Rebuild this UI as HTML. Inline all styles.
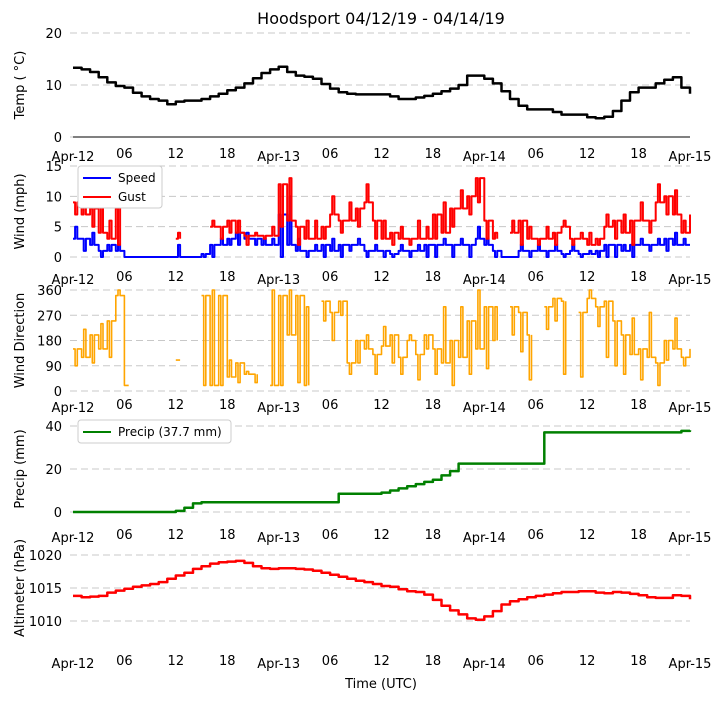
<!DOCTYPE html>
<html><head><meta charset="utf-8"><style>
body{margin:0;background:#fff;}
svg text{font-family:"DejaVu Sans","Liberation Sans",sans-serif;fill:#000;}
</style></head><body>
<svg id="c" width="721" height="700" xmlns="http://www.w3.org/2000/svg">
<text x="381" y="24" font-size="16" text-anchor="middle">Hoodsport 04/12/19 - 04/14/19</text>
<text x="381" y="688" font-size="13" text-anchor="middle">Time (UTC)</text>
</svg>
<script>
const hours=[];for(let i=0;i<=72;i++)hours.push(i);
const xTickHours=[0,6,12,18,24,30,36,42,48,54,60,66,72];
const xTickLabels=["Apr-12","06","12","18","Apr-13","06","12","18","Apr-14","06","12","18","Apr-15"];
const temp=[13.3,13,12.5,11.5,10.5,9.8,9.5,8.5,7.8,7.3,7,6.3,6.8,7,7,7.3,7.8,8.3,9,9.5,10.3,11.3,12.3,13,13.5,12.5,11.8,11.6,11.2,10.2,9.3,8.6,8.3,8.2,8.2,8.2,8.2,7.8,7.3,7.3,7.6,7.9,8.3,8.8,9.3,10,11.8,11.8,11.2,10.3,8.8,7.3,6,5.3,5.3,5.3,4.8,4.3,4.3,4.3,3.8,3.6,3.9,5,7,8.6,9.5,9.5,10.3,11,11.5,9.5,8.3];
const speed=[3,3,2,1,2,1,0,0,0,0,0,0,0,0,0,0.5,2,2,3,4,3,3,2,2,7,2,1,1,1,2,1,2,2,2,1,1,1,0.5,1,1,1,2,2,2,2,2,2,3,2,1,0,0,1,1,1,1,1,0.5,1,0.5,0.5,1,2,2,1,2,2,2,2,3,2,2,2];
const speedAlt=[5,1,4,0,1,2,0,0,0,0,0,0,2,0,0,0,0,3,2,2,4,2,3,3,0,10,3,0,2,0,3,0,1,3,0,2,0,0,2,0,2,0,0,3,0,3,0,5,3,0,0,0,2,0,2,0,2,0,2,0,1,0,0,0,2,0,3,1,3,1,4,3,1];
const gust=[9,7,8,4,3,8,null,null,null,null,null,null,3,null,null,null,5,5,6,4,3.5,3.5,3.5,3.5,12,6,5,3,3,5,7,6,6,8,9,6,3,4,3,3,3,3,7,4,8,8,10,13,6,3,null,4,6,3,3,3,4,5,3,3,2,3,5,6,4,6,6,6,9,10,7,4,7];
const gustAlt=[7,9,5,10,6,2,null,null,null,null,null,null,4,null,null,null,6,3,4,6,2,4,3,5,5,13,2,6,6,3,10,4,9,5,12,3,6,2,5,2,6,5,3,9,5,11,7,9,3,4,null,6,2,5,2,5,2,6,2,4,4,2,7,3,7,2,9,4,12,7,11,6,5];
const dir=[150,120,200,150,250,340,20,null,null,null,null,null,110,null,null,340,20,340,50,100,60,60,null,20,340,200,340,20,null,320,280,320,100,180,150,130,160,200,120,180,130,200,150,100,180,120,250,150,300,180,null,300,280,200,null,300,330,320,null,280,330,300,320,250,200,130,150,120,100,180,150,120,150];
const dirAlt=[90,220,100,240,120,360,20,null,null,null,null,null,110,null,null,20,360,20,110,30,70,30,null,360,20,360,30,300,null,250,180,270,60,100,200,60,230,100,60,200,40,150,60,300,20,300,60,360,80,300,null,200,140,40,null,220,250,60,null,50,360,230,120,90,60,260,40,280,20,110,260,90,180];
const precip=[0,0,0,0,0,0,0,0,0,0,0,0,0.5,2,4,4.5,4.5,4.5,4.5,4.5,4.5,4.5,4.5,4.5,4.5,4.5,4.5,4.5,4.5,4.5,4.5,8.5,8.5,8.5,8.5,8.5,9,10,11,12,13,14,15,17,19,22.5,22.5,22.5,22.5,22.5,22.5,22.5,22.5,22.5,22.5,37,37,37,37,37,37,37,37,37,37,37,37,37,37,37,37,37.7,38];
const altim=[1013.8,1013.6,1013.7,1013.8,1014.3,1014.6,1014.9,1015.2,1015.4,1015.6,1015.9,1016.4,1016.9,1017.3,1017.9,1018.3,1018.7,1018.9,1019.0,1019.1,1018.8,1018.3,1018.0,1017.9,1018.0,1018.0,1017.9,1017.8,1017.6,1017.3,1017.0,1016.7,1016.4,1016.1,1015.9,1015.6,1015.3,1015.2,1014.8,1014.5,1014.4,1014.0,1013.2,1012.3,1011.6,1011.0,1010.4,1010.2,1010.7,1011.5,1012.5,1013.0,1013.3,1013.6,1013.8,1014.0,1014.2,1014.4,1014.4,1014.5,1014.5,1014.3,1014.2,1014.4,1014.3,1014.1,1013.9,1013.6,1013.5,1013.5,1013.9,1013.8,1013.3];

const svg=document.getElementById('c');const NS="http://www.w3.org/2000/svg";
function mk(t,a,p){const e=document.createElementNS(NS,t);for(const k in a)e.setAttribute(k,a[k]);(p||svg).appendChild(e);return e;}
const X=h=>73+h*(617/72);
function panel(o){
  const Y=v=>o.y0+(v-o.v0)*(o.y1-o.y0)/(o.v1-o.v0);
  const g=mk('g',{});
  
  
  o.yt.forEach(v=>{
    const l=mk('line',{x1:70,x2:690,y1:Y(v),y2:Y(v),stroke:'#c8c8c8','stroke-dasharray':'7,4','stroke-width':1},g);
    
    
    const t=mk('text',{x:62,y:Y(v)+5,'font-size':13,'text-anchor':'end'},g);t.textContent=v;
    
    
  });
  if(o.spine){const s=mk('line',{x1:73,x2:690,y1:Y(o.v0),y2:Y(o.v0),stroke:'#000','stroke-width':1},g);}
  xTickHours.forEach((h,i)=>{
    const d=xTickLabels[i].startsWith('Apr');
    const t=mk('text',{x:X(h),y:o.ly+(d?3:0),'font-size':13,'text-anchor':'middle'},g);t.textContent=xTickLabels[i];
    
    
  });
  const yl=mk('text',{x:0,y:0,'font-size':13,'text-anchor':'middle',transform:`translate(24,${(o.y0+o.y1)/2}) rotate(-90)`},g);yl.textContent=o.label;
  
  
  o.series.forEach(s=>{
    let d='',pen=false;
    s.data.forEach((v,i)=>{
      if(v===null){pen=false;return;}
      const x=X(hours[i]),y=Y(v);
      if(s.step&&pen)d+='H'+x.toFixed(1)+'V'+y.toFixed(1);
      else d+=(pen?'L':'M')+x.toFixed(1)+','+y.toFixed(1);
      pen=true;
      if(s.alt&&s.alt[i]!=null&&i<s.data.length-1){
        const xa=X(hours[i]+0.25),xb=X(hours[i]+0.5);
        d+='H'+xa.toFixed(1)+'V'+Y(s.alt[i]).toFixed(1)+'H'+xb.toFixed(1)+'V'+y.toFixed(1);
      }
    });
    const p=mk('path',{d:d,fill:'none',stroke:s.color,'stroke-width':s.w||2.2,'stroke-linejoin':'round'},g);
    
    
  });
  return Y;
}
panel({name:'temp',v0:0,v1:20,y0:137,y1:33,yt:[0,10,20],ly:158,label:'Temp ( °C)',spine:true,series:[{name:'temp',data:temp,color:'#000',step:true,w:2.5}]});
panel({name:'wind',v0:0,v1:15,y0:257,y1:166,yt:[0,5,10,15],ly:281,label:'Wind (mph)',series:[{name:'speed',data:speed,alt:speedAlt,color:'#0000ff',step:true,w:2},{name:'gust',data:gust,alt:gustAlt,color:'#ff0000',step:true,w:2}]});
panel({name:'direction',v0:0,v1:360,y0:391,y1:290,yt:[0,90,180,270,360],ly:409,label:'Wind Direction',series:[{name:'direction',data:dir,alt:dirAlt,color:'#ffa500',w:1.6,step:true}]});
panel({name:'precip',v0:0,v1:40,y0:512,y1:426,yt:[0,20,40],ly:539,label:'Precip (mm)',series:[{name:'precip',data:precip,color:'#008000',w:2.5,step:true}]});
panel({name:'altimeter',v0:1010,v1:1020,y0:621,y1:555,yt:[1010,1015,1020],ly:665,label:'Altimeter (hPa)',series:[{name:'altimeter',data:altim,color:'#ff0000',w:2.5,step:true}]});
function legend(x,y,w,h,items,name){
  const g=mk('g',{});
  
  
  mk('rect',{x:x,y:y,width:w,height:h,fill:'#fff',stroke:'#ccc',rx:3},g);
  items.forEach((it,i)=>{
    const yy=y+12+i*19;
    mk('line',{x1:x+5,x2:x+33,y1:yy,y2:yy,stroke:it.c,'stroke-width':2},g);
    const t=mk('text',{x:x+40,y:yy+4,'font-size':12},g);t.textContent=it.t;
    
    
  });
}
legend(78,166,84,42,[{t:'Speed',c:'#0000ff'},{t:'Gust',c:'#ff0000'}],'wind-legend');
legend(78,420,153,23,[{t:'Precip (37.7 mm)',c:'#008000'}],'precip-legend');
</script>
</body></html>
